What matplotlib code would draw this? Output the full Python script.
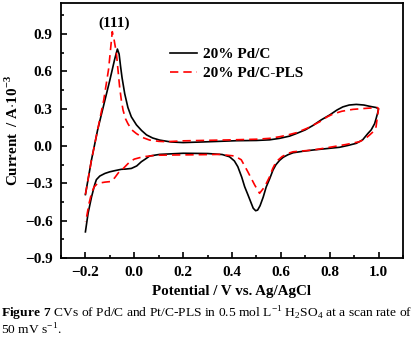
import matplotlib
matplotlib.use('Agg')
import matplotlib.pyplot as plt
from matplotlib.ticker import MultipleLocator

plt.rcParams['font.family'] = ['Liberation Serif', 'DejaVu Serif']
plt.rcParams['mathtext.fontset'] = 'custom'
plt.rcParams['mathtext.rm'] = 'Liberation Serif'
plt.rcParams['mathtext.bf'] = 'Liberation Serif:bold'

# 20% Pd/C (solid black), one sweep from -0.2 V upper branch to -0.2 V lower branch
pdc_E = [-0.2, -0.175, -0.15, -0.125, -0.1, -0.08, -0.069, -0.062, -0.056, -0.05,
         -0.039, -0.026, -0.012, 0.009, 0.03, 0.05, 0.075, 0.104, 0.15, 0.2,
         0.28, 0.35, 0.418, 0.5, 0.554, 0.595, 0.636, 0.663, 0.7, 0.731,
         0.765, 0.8, 0.83, 0.854, 0.88, 0.909, 0.94, 0.963, 0.99, 1.0,
         0.997, 0.99, 0.984, 0.97, 0.956, 0.935, 0.909, 0.875, 0.84, 0.79,
         0.731, 0.69, 0.65, 0.629, 0.61, 0.595, 0.58, 0.568, 0.555, 0.54,
         0.528, 0.515, 0.505, 0.497, 0.487, 0.479, 0.465, 0.452, 0.44, 0.424,
         0.41, 0.39, 0.36, 0.3, 0.2, 0.104, 0.063, 0.045, 0.029, 0.01,
         -0.012, -0.035, -0.053, -0.08, -0.1, -0.12, -0.141, -0.155, -0.162, -0.175,
         -0.189, -0.2]
pdc_I = [-0.39, -0.11, 0.13, 0.33, 0.53, 0.70, 0.78, 0.74, 0.64, 0.55,
         0.42, 0.31, 0.235, 0.17, 0.125, 0.09, 0.065, 0.048, 0.033, 0.028,
         0.033, 0.038, 0.043, 0.045, 0.05, 0.062, 0.08, 0.10, 0.13, 0.165,
         0.21, 0.25, 0.29, 0.315, 0.33, 0.335, 0.33, 0.32, 0.31, 0.30,
         0.27, 0.22, 0.18, 0.13, 0.10, 0.05, 0.022, 0.005, -0.01, -0.02,
         -0.032, -0.042, -0.054, -0.07, -0.09, -0.115, -0.15, -0.193, -0.26, -0.33,
         -0.41, -0.48, -0.515, -0.52, -0.5, -0.46, -0.39, -0.327, -0.25, -0.166,
         -0.12, -0.086, -0.068, -0.06, -0.058, -0.067, -0.08, -0.105, -0.126, -0.16,
         -0.18, -0.185, -0.187, -0.198, -0.207, -0.22, -0.241, -0.27, -0.31, -0.41,
         -0.54, -0.69]

# 20% Pd/C-PLS (dashed red)
pls_E = [-0.2, -0.175, -0.15, -0.125, -0.105, -0.09, -0.083, -0.073, -0.066, -0.06,
         -0.053, -0.046, -0.036, -0.026, -0.01, 0.009, 0.035, 0.063, 0.1, 0.131,
         0.2, 0.3, 0.4, 0.5, 0.554, 0.595, 0.63, 0.663, 0.71, 0.759,
         0.79, 0.813, 0.85, 0.895, 0.94, 0.97, 0.995, 1.0, 0.995, 0.99,
         0.978, 0.963, 0.945, 0.922, 0.868, 0.8, 0.731, 0.65, 0.629, 0.605,
         0.581, 0.567, 0.554, 0.534, 0.513, 0.493, 0.465, 0.438, 0.411, 0.35,
         0.25, 0.145, 0.09, 0.036, 0.0, -0.02, -0.045, -0.065, -0.08, -0.095,
         -0.12, -0.15, -0.165, -0.175, -0.185, -0.196, -0.2]
pls_I = [-0.39, -0.11, 0.13, 0.37, 0.62, 0.92, 0.86, 0.745, 0.6, 0.477,
         0.37, 0.29, 0.22, 0.18, 0.13, 0.10, 0.068, 0.048, 0.038, 0.035,
         0.042, 0.046, 0.05, 0.055, 0.062, 0.075, 0.09, 0.107, 0.145, 0.195,
         0.235, 0.257, 0.28, 0.295, 0.302, 0.306, 0.31, 0.30, 0.23, 0.155,
         0.115, 0.088, 0.058, 0.035, 0.013, -0.01, -0.032, -0.046, -0.059, -0.085,
         -0.126, -0.18, -0.247, -0.327, -0.38, -0.313, -0.207, -0.11, -0.08, -0.067,
         -0.07, -0.072, -0.074, -0.086, -0.105, -0.13, -0.18, -0.215, -0.255, -0.285,
         -0.29, -0.30, -0.33, -0.38, -0.46, -0.58, -0.61]

fig = plt.figure(figsize=(4.16, 3.39), dpi=100)
ax = fig.add_axes([0.1466, 0.239, 0.822, 0.752])

ax.plot(pdc_E, pdc_I, color='black', lw=1.2, label='20% Pd/C')
ax.plot(pls_E, pls_I, color='red', lw=1.2, dashes=(5, 3), label='20% Pd/C-PLS')

ax.set_xlim(-0.3, 1.1)
ax.set_ylim(-0.9, 1.15)
ax.xaxis.set_major_locator(MultipleLocator(0.2))
ax.xaxis.set_minor_locator(MultipleLocator(0.1))
ax.yaxis.set_major_locator(MultipleLocator(0.3))
ax.yaxis.set_minor_locator(MultipleLocator(0.15))
ax.tick_params(which='both', direction='in', top=False, right=False,
               labelsize=11, width=1.2)
ax.tick_params(which='major', length=4, pad=6)
ax.tick_params(which='minor', length=2)
for lab in ax.get_xticklabels() + ax.get_yticklabels():
    lab.set_fontweight('bold')
for s in ax.spines.values():
    s.set_linewidth(1.3)

ax.set_xlabel('Potential / V vs. Ag/AgCl', fontsize=10.8, fontweight='bold', labelpad=4)
ax.set_ylabel(r'Current  / A$\cdot$10$^{\mathbf{-3}}$', fontsize=10.8, fontweight='bold', labelpad=3)

ax.text(-0.083, 0.985, '(111)', fontsize=11, fontweight='bold', ha='center', va='center')

leg = ax.legend(loc='upper left', bbox_to_anchor=(0.30, 0.85), frameon=False, fontsize=11,
                handlelength=1.8, handletextpad=0.4, labelspacing=0.35, borderaxespad=0)
for t in leg.get_texts():
    t.set_fontweight('bold')

fig.text(0.002, 0.075, r'$\mathbf{Figure\ 7}$ CVs of Pd/C and Pt/C-PLS in 0.5 mol L$^{-1}$ H$_2$SO$_4$ at a scan rate of',
         fontsize=9.7, ha='left', va='center')
fig.text(0.002, 0.028, r'50 mV s$^{-1}$.', fontsize=9.7, ha='left', va='center')

fig.savefig('out.png', dpi=100)
